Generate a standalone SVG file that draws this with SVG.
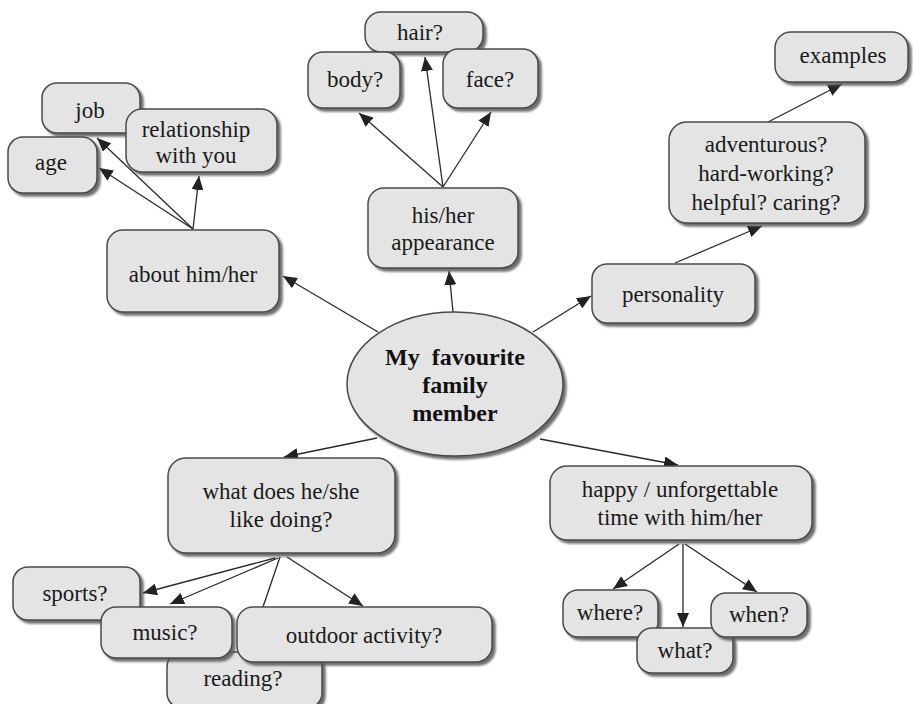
<svg xmlns="http://www.w3.org/2000/svg" width="913" height="704" viewBox="0 0 913 704">
  <defs>
    <filter id="shadow" x="-10%" y="-10%" width="130%" height="140%">
      <feDropShadow dx="3" dy="3" stdDeviation="0.8" flood-color="#555" flood-opacity="0.85"/>
    </filter>
    <marker id="arrow" markerUnits="userSpaceOnUse" markerWidth="15" markerHeight="12" refX="14" refY="6" orient="auto">
      <path d="M0,0 L14,6 L0,12 z" fill="#222"/>
    </marker>
  </defs>
  <style>
    .box { fill: #e4e4e4; stroke: #4a4a4a; stroke-width: 1.5; filter: url(#shadow); }
    .lbl { font-family: "Liberation Serif", "Times New Roman", serif; font-size: 23px; fill: #1a1a1a; text-anchor: middle; }
    .hub { font-family: "Liberation Serif", "Times New Roman", serif; font-size: 24px; font-weight: bold; fill: #111; text-anchor: middle; white-space: pre; }
    .link { stroke: #2a2a2a; stroke-width: 1.3; fill: none; marker-end: url(#arrow); }
  </style>
  <rect width="913" height="704" fill="#ffffff"/>

  <!-- connectors -->
  <g id="connectors">
    <line class="link" x1="378" y1="332" x2="283" y2="276"/>
    <line class="link" x1="453" y1="312" x2="449" y2="271"/>
    <line class="link" x1="533" y1="332" x2="591" y2="296"/>
    <line class="link" x1="377" y1="438" x2="284" y2="457"/>
    <line class="link" x1="540" y1="439" x2="678" y2="465"/>
    <line class="link" x1="193" y1="229" x2="97" y2="138"/>
    <line class="link" x1="193" y1="229" x2="99" y2="168"/>
    <line class="link" x1="193" y1="229" x2="199" y2="176"/>
    <line class="link" x1="443" y1="187" x2="359" y2="113"/>
    <line class="link" x1="443" y1="187" x2="425" y2="57"/>
    <line class="link" x1="443" y1="187" x2="491" y2="112"/>
    <line class="link" x1="675" y1="263" x2="762" y2="226"/>
    <line class="link" x1="768" y1="122" x2="842" y2="84"/>
    <line class="link" x1="275" y1="558" x2="143" y2="593"/>
    <line class="link" x1="278" y1="558" x2="170" y2="604"/>
    <line class="link" x1="280" y1="557" x2="248" y2="651"/>
    <line class="link" x1="287" y1="557" x2="363" y2="606"/>
    <line class="link" x1="679" y1="544" x2="613" y2="589"/>
    <line class="link" x1="683" y1="544" x2="683" y2="627"/>
    <line class="link" x1="685" y1="544" x2="757" y2="592"/>
  </g>

  <!-- central topic -->
  <g id="hub">
    <ellipse class="box" cx="455" cy="384" rx="108" ry="72"/>
    <text class="hub" x="455" y="365">My  favourite</text>
    <text class="hub" x="455" y="393">family</text>
    <text class="hub" x="455" y="421">member</text>
  </g>

  <!-- about him/her branch -->
  <g id="about">
    <rect class="box" x="107" y="230" width="172" height="82" rx="16"/>
    <text class="lbl" x="193" y="282">about him/her</text>
  </g>
  <g id="job">
    <rect class="box" x="42" y="83" width="98" height="50" rx="15"/>
    <text class="lbl" x="90" y="118">job</text>
  </g>
  <g id="relationship">
    <rect class="box" x="126" y="109" width="151" height="63" rx="16"/>
    <text class="lbl" x="196" y="137">relationship</text>
    <text class="lbl" x="196" y="163">with you</text>
  </g>
  <g id="age">
    <rect class="box" x="8" y="137" width="89" height="56" rx="15"/>
    <text class="lbl" x="51" y="170">age</text>
  </g>

  <!-- appearance branch -->
  <g id="appearance">
    <rect class="box" x="368" y="188" width="150" height="80" rx="16"/>
    <text class="lbl" x="443" y="223">his/her</text>
    <text class="lbl" x="443" y="250">appearance</text>
  </g>
  <g id="hair">
    <rect class="box" x="365" y="12" width="118" height="40" rx="16"/>
    <text class="lbl" x="420" y="40">hair?</text>
  </g>
  <g id="body">
    <rect class="box" x="308" y="52" width="92" height="56" rx="15"/>
    <text class="lbl" x="355" y="87">body?</text>
  </g>
  <g id="face">
    <rect class="box" x="443" y="49" width="95" height="59" rx="15"/>
    <text class="lbl" x="490" y="87">face?</text>
  </g>

  <!-- personality branch -->
  <g id="personality">
    <rect class="box" x="592" y="264" width="163" height="59" rx="15"/>
    <text class="lbl" x="673" y="302">personality</text>
  </g>
  <g id="traits">
    <rect class="box" x="669" y="122" width="196" height="101" rx="18"/>
    <text class="lbl" x="766" y="152">adventurous?</text>
    <text class="lbl" x="766" y="181">hard-working?</text>
    <text class="lbl" x="766" y="210">helpful? caring?</text>
  </g>
  <g id="examples">
    <rect class="box" x="775" y="32" width="133" height="50" rx="16"/>
    <text class="lbl" x="843" y="63">examples</text>
  </g>

  <!-- hobbies branch -->
  <g id="likes">
    <rect class="box" x="168" y="458" width="227" height="95" rx="18"/>
    <text class="lbl" x="281" y="499">what does he/she</text>
    <text class="lbl" x="281" y="527">like doing?</text>
  </g>
  <g id="reading">
    <rect class="box" x="167" y="652" width="155" height="56" rx="15"/>
    <text class="lbl" x="243" y="686">reading?</text>
  </g>
  <g id="sports">
    <rect class="box" x="13" y="567" width="127" height="53" rx="15"/>
    <text class="lbl" x="75" y="601">sports?</text>
  </g>
  <g id="music">
    <rect class="box" x="101" y="607" width="131" height="51" rx="15"/>
    <text class="lbl" x="165" y="640">music?</text>
  </g>
  <g id="outdoor">
    <rect class="box" x="237" y="607" width="255" height="55" rx="16"/>
    <text class="lbl" x="364" y="643">outdoor activity?</text>
  </g>

  <!-- memorable time branch -->
  <g id="happy">
    <rect class="box" x="550" y="466" width="262" height="74" rx="17"/>
    <text class="lbl" x="680" y="497">happy / unforgettable</text>
    <text class="lbl" x="680" y="525">time with him/her</text>
  </g>
  <g id="where">
    <rect class="box" x="563" y="590" width="95" height="47" rx="15"/>
    <text class="lbl" x="610" y="620">where?</text>
  </g>
  <g id="what">
    <rect class="box" x="637" y="628" width="96" height="45" rx="15"/>
    <text class="lbl" x="685" y="658">what?</text>
  </g>
  <g id="when">
    <rect class="box" x="711" y="593" width="96" height="44" rx="15"/>
    <text class="lbl" x="759" y="622">when?</text>
  </g>
</svg>
